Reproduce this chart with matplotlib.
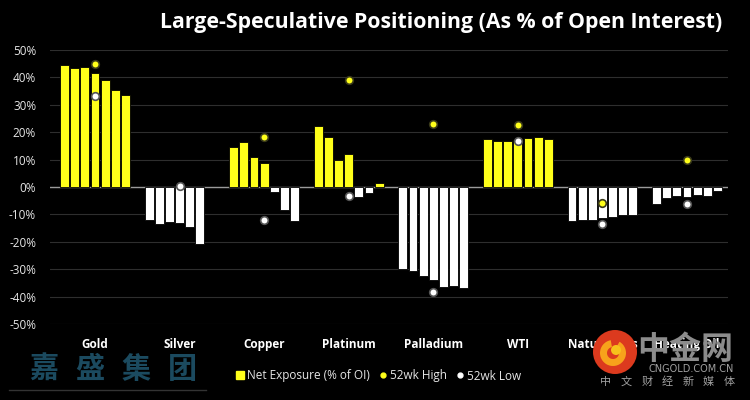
import matplotlib
matplotlib.use('Agg')
import matplotlib.pyplot as plt
from matplotlib.lines import Line2D
from matplotlib.patches import Circle, Wedge
import numpy as np

# data
categories = ['Gold', 'Silver', 'Copper', 'Platinum', 'Palladium', 'WTI', 'Natural Gas', 'Heating Oil']

net_exposure = [
    [44.5, 43.4, 43.8, 41.6, 39.1, 35.4, 33.6],       # Gold
    [-12.1, -13.4, -12.7, -13.2, -14.7, -20.9, np.nan],  # Silver
    [14.7, 16.5, 11.0, 8.7, -1.7, -8.4, -12.5],       # Copper
    [22.3, 18.3, 9.9, 12.1, -3.6, -2.1, 1.6],         # Platinum
    [-29.9, -30.8, -32.3, -34.1, -36.6, -36.2, -36.9],  # Palladium
    [17.4, 16.7, 16.9, 17.1, 18.0, 18.4, 17.6],       # WTI
    [-12.4, -11.9, -11.9, -11.4, -10.8, -10.3, -10.3],  # Natural Gas
    [-6.3, -4.1, -3.2, -3.7, -2.8, -3.4, -1.5],       # Heating Oil
]
high_52wk = [45.0, np.nan, 18.2, 39.0, 23.0, 22.7, -5.8, 9.8]
low_52wk = [33.2, 0.3, -12.1, -3.4, -38.4, 16.7, -13.5, -6.3]

yticks = [50, 40, 30, 20, 10, 0, -10, -20, -30, -40, -50]
title = 'Large-Speculative Positioning (As % of Open Interest)'

YELLOW = '#ffff1a'
WHITE = '#ffffff'

plt.rcParams['font.family'] = ['Open Sans', 'DejaVu Sans']
CJK = ['Noto Sans CJK SC', 'DejaVu Sans']

fig = plt.figure(figsize=(7.5, 4), dpi=100)
fig.patch.set_facecolor('black')
ax = fig.add_axes([0.0667, 0.19, 0.904, 0.685])
ax.set_facecolor('black')

step = 0.12
width = 0.105
offsets = (np.arange(7) - 3) * step
for i, vals in enumerate(net_exposure):
    vals = np.array(vals)
    ok = ~np.isnan(vals)
    cols = [YELLOW if v >= 0 else WHITE for v in vals[ok]]
    ax.bar(i + offsets[ok], vals[ok], width=width, color=cols,
           edgecolor='black', linewidth=0.6, zorder=3)

x = np.arange(len(categories))
ax.scatter(x, high_52wk, s=30, color=YELLOW, edgecolor='#3a3a1a', linewidth=1.2, zorder=5)
ax.scatter(x, low_52wk, s=30, color=WHITE, edgecolor='#555555', linewidth=1.2, zorder=5)

ax.set_ylim(-50, 50)
ax.set_xlim(-0.532, 7.485)
ax.set_yticks(yticks)
ax.set_yticklabels(['%d%%' % t for t in yticks], color='#e6e6e6', fontsize=8.5)
ax.tick_params(axis='y', length=0, pad=10)
ax.set_xticks(x)
ax.set_xticklabels(categories, color='white', fontsize=8.5, fontweight='bold')
ax.tick_params(axis='x', length=0, pad=10)
for s in ax.spines.values():
    s.set_visible(False)
ax.grid(axis='y', color='#2e2e2e', linewidth=0.8, zorder=0)
ax.set_axisbelow(True)
ax.axhline(0, color='#9a9a9a', linewidth=1, zorder=2)

fig.text(0.963, 0.943, title, color='white', fontsize=15.3, fontweight='bold',
         ha='right', va='center')

handles = [
    Line2D([], [], marker='s', color=YELLOW, linestyle='none', markersize=6),
    Line2D([], [], marker='o', color=YELLOW, linestyle='none', markersize=3.5),
    Line2D([], [], marker='o', color=WHITE, linestyle='none', markersize=3.5),
]
leg = fig.legend(handles, ['Net Exposure (% of OI)', '52wk High', '52wk Low'],
                 loc='center', bbox_to_anchor=(0.503, 0.06), ncol=3, frameon=False,
                 fontsize=8.5, handletextpad=0.1, columnspacing=0.6, handlelength=1)
for t in leg.get_texts():
    t.set_color('#e6e6e6')

# watermark left
for k, ch in enumerate('嘉盛集团'):
    fig.text((44 + 46 * k) / 750, 0.0775, ch, color='#1b4a5f', fontsize=21,
             fontweight='bold', family=CJK, ha='center', va='center')
fig.add_artist(Line2D([0.012, 0.275], [0.025, 0.025], color='#333333', linewidth=1))

# watermark right (logo)
tr = fig.dpi_scale_trans
fig.add_artist(Circle((6.15, 0.48), 0.22, transform=tr, facecolor='#dc3a1e',
                      edgecolor='none', zorder=10))
fig.add_artist(Wedge((6.13, 0.47), 0.13, 100, 420, width=0.07, transform=tr,
                     facecolor='#f7a21b', edgecolor='none', zorder=11))
fig.add_artist(Circle((6.16, 0.50), 0.05, transform=tr, facecolor='#f7c21b',
                      edgecolor='none', zorder=11))
fig.text(0.913, 0.125, '中金网', color='#8c8c8c', fontsize=23, fontweight='bold',
         family=CJK, ha='center', va='center', zorder=10)
fig.text(0.921, 0.077, 'CNGOLD.COM.CN', color='#a0a0a0', fontsize=7,
         family=['DejaVu Sans'], ha='center', va='center', zorder=10)
for k, ch in enumerate('中文财经新媒体'):
    fig.text((606 + 20.5 * k) / 750, 0.045, ch, color='#a0a0a0', fontsize=8,
             family=CJK, ha='center', va='center', zorder=10)

plt.savefig('out.png', dpi=100, facecolor=fig.get_facecolor())
plt.close(fig)
